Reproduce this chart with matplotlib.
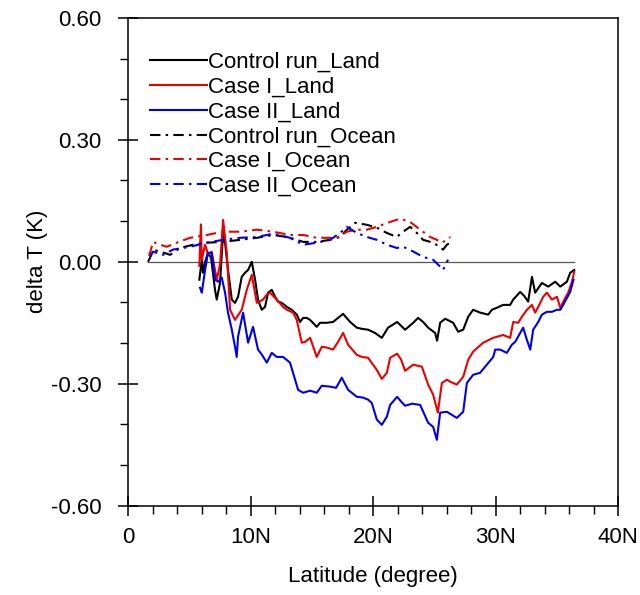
import matplotlib
matplotlib.use('Agg')
import matplotlib.pyplot as plt
from matplotlib.ticker import MultipleLocator, FuncFormatter

plt.rcParams['font.family'] = ['Liberation Sans', 'DejaVu Sans']
plt.rcParams['axes.unicode_minus'] = False

# land series (latitude in degrees N, delta T in K)
ctl_land_lat = [5.82, 6.02, 6.12, 6.29, 6.53, 6.78, 7.10, 7.24, 7.51, 7.76, 7.92, 8.16, 8.47, 8.73,
                8.98, 9.28, 9.55, 9.80, 10.10, 10.37, 10.61, 10.91, 11.18, 11.43, 11.73, 12.0, 12.24,
                12.55, 12.96, 13.36, 13.77, 14.04, 14.29, 14.59, 14.86, 15.40, 15.67, 16.22, 16.73,
                17.14, 17.55, 18.12, 18.67, 19.1, 19.59, 20.16, 20.71, 21.22, 21.96, 22.61, 23.27,
                23.67, 24.08, 24.49, 25.06, 25.22, 25.47, 25.88, 26.53, 26.94, 27.35, 27.76, 28.16,
                28.73, 29.39, 29.69, 30.10, 30.61, 31.18, 31.43, 32.0, 32.33, 32.65, 32.96, 33.22,
                33.77, 34.29, 34.86, 35.27, 35.81, 36.08, 36.41]
ctl_land = [-0.044, 0.005, -0.027, 0.0, 0.022, 0.010, -0.069, -0.093, -0.052, 0.074, 0.047, -0.020,
            -0.093, -0.101, -0.086, -0.037, -0.027, -0.020, 0.0, -0.044, -0.093, -0.118, -0.111,
            -0.076, -0.069, -0.086, -0.098, -0.101, -0.111, -0.118, -0.130, -0.148, -0.138, -0.138,
            -0.143, -0.160, -0.150, -0.150, -0.148, -0.138, -0.128, -0.148, -0.162, -0.165, -0.167,
            -0.175, -0.187, -0.162, -0.148, -0.167, -0.150, -0.138, -0.148, -0.162, -0.175, -0.194,
            -0.150, -0.140, -0.150, -0.172, -0.167, -0.135, -0.118, -0.125, -0.130, -0.118, -0.113,
            -0.106, -0.106, -0.093, -0.074, -0.084, -0.098, -0.037, -0.076, -0.052, -0.061, -0.049,
            -0.061, -0.049, -0.027, -0.020]

case1_land_lat = [5.82, 5.95, 6.02, 6.29, 6.42, 6.53, 6.83, 7.24, 7.51, 7.76, 8.06, 8.33, 8.73, 9.28,
                  9.69, 10.10, 10.51, 11.02, 11.32, 11.59, 12.14, 12.65, 12.96, 13.47, 13.77, 14.18,
                  14.45, 14.86, 15.40, 15.81, 16.24, 16.73, 17.14, 17.55, 17.96, 18.67, 19.1, 19.59,
                  20.30, 20.71, 21.12, 21.39, 21.96, 22.29, 22.61, 23.27, 23.98, 24.49, 24.90, 25.28,
                  25.61, 26.02, 26.29, 26.83, 27.35, 27.76, 28.16, 28.98, 29.80, 30.61, 31.18, 31.43,
                  31.84, 32.14, 32.55, 32.96, 33.22, 33.47, 33.88, 34.18, 34.59, 35.0, 35.27, 35.67,
                  35.92, 36.22, 36.41]
case1_land = [-0.01, 0.092, 0.005, 0.042, 0.030, 0.017, 0.025, -0.044, -0.007, 0.103, 0.022, -0.118,
              -0.143, -0.118, -0.069, -0.032, -0.101, -0.093, -0.081, -0.076, -0.093, -0.111, -0.118,
              -0.125, -0.143, -0.199, -0.197, -0.187, -0.234, -0.209, -0.211, -0.216, -0.197, -0.175,
              -0.204, -0.229, -0.234, -0.236, -0.266, -0.288, -0.273, -0.236, -0.226, -0.241, -0.268,
              -0.253, -0.258, -0.302, -0.327, -0.371, -0.298, -0.290, -0.295, -0.302, -0.283, -0.241,
              -0.221, -0.199, -0.187, -0.180, -0.187, -0.148, -0.150, -0.135, -0.118, -0.106, -0.125,
              -0.111, -0.086, -0.076, -0.093, -0.086, -0.113, -0.089, -0.076, -0.049, -0.025]

case2_land_lat = [5.88, 6.02, 6.29, 6.53, 6.83, 7.10, 7.35, 7.65, 7.92, 8.16, 8.47, 8.73, 8.87, 8.98,
                  9.39, 9.80, 10.20, 10.61, 10.94, 11.32, 11.73, 12.14, 12.65, 13.22, 13.88, 14.29,
                  14.86, 15.40, 15.81, 16.49, 16.98, 17.44, 17.96, 18.67, 19.18, 19.59, 19.89, 20.30,
                  20.71, 21.12, 21.39, 21.96, 22.29, 22.61, 23.18, 23.84, 24.49, 24.90, 25.20, 25.47,
                  26.02, 26.83, 27.10, 27.35, 27.65, 28.16, 28.73, 29.28, 29.80, 29.96, 30.37, 30.91,
                  31.32, 31.59, 32.0, 32.24, 32.55, 32.82, 33.06, 33.47, 33.77, 34.18, 34.59, 35.0,
                  35.27, 35.51, 35.81, 36.08, 36.35]
case2_land = [-0.064, -0.076, -0.020, 0.022, 0.022, -0.044, -0.049, -0.039, -0.076, -0.125, -0.167,
              -0.209, -0.234, -0.184, -0.125, -0.199, -0.160, -0.216, -0.229, -0.248, -0.224, -0.234,
              -0.234, -0.248, -0.315, -0.322, -0.317, -0.322, -0.305, -0.307, -0.310, -0.285, -0.315,
              -0.332, -0.334, -0.339, -0.347, -0.388, -0.401, -0.381, -0.352, -0.332, -0.344, -0.354,
              -0.349, -0.352, -0.396, -0.406, -0.438, -0.371, -0.369, -0.384, -0.376, -0.369, -0.298,
              -0.278, -0.273, -0.253, -0.234, -0.216, -0.216, -0.224, -0.204, -0.197, -0.175, -0.162,
              -0.192, -0.216, -0.167, -0.148, -0.130, -0.123, -0.123, -0.118, -0.118, -0.106, -0.089,
              -0.074, -0.044]

# ocean series
ctl_ocean_lat = [1.63, 1.80, 2.04, 2.61, 3.16, 3.43, 4.24, 5.31, 6.42, 7.76, 9.14, 10.51, 11.84, 12.96,
                 13.77, 14.29, 15.40, 16.49, 17.31, 17.85, 18.53, 19.49, 20.30, 21.12, 21.93, 22.45,
                 23.02, 23.57, 24.08, 24.90, 25.31, 25.71, 26.02, 26.29]
ctl_ocean = [0.0, 0.010, 0.030, 0.025, 0.020, 0.017, 0.034, 0.042, 0.047, 0.049, 0.054, 0.059, 0.066,
             0.061, 0.054, 0.049, 0.049, 0.054, 0.061, 0.079, 0.096, 0.091, 0.084, 0.071, 0.061, 0.074,
             0.086, 0.071, 0.054, 0.047, 0.039, 0.030, 0.042, 0.047]

case1_ocean_lat = [1.70, 1.80, 2.04, 2.61, 3.16, 3.98, 5.06, 6.42, 7.76, 9.14, 10.51, 11.84, 13.22, 14.29,
                   15.40, 16.22, 17.04, 17.85, 18.67, 19.49, 20.30, 21.39, 22.20, 23.02, 23.84, 24.65,
                   25.20, 25.61, 26.02, 26.29]
case1_ocean = [0.015, 0.022, 0.049, 0.042, 0.037, 0.047, 0.059, 0.066, 0.074, 0.074, 0.079, 0.074, 0.066,
               0.066, 0.059, 0.059, 0.059, 0.074, 0.079, 0.079, 0.086, 0.098, 0.106, 0.098, 0.079, 0.061,
               0.054, 0.047, 0.054, 0.061]

case2_ocean_lat = [1.80, 2.04, 2.86, 3.67, 5.06, 6.42, 7.76, 9.14, 10.51, 11.84, 13.22, 14.29, 15.40,
                   16.49, 17.31, 17.85, 18.67, 19.49, 20.30, 21.12, 21.93, 22.45, 23.29, 24.08, 24.90,
                   25.47, 25.71, 26.02, 26.12]
case2_ocean = [0.012, 0.025, 0.017, 0.030, 0.037, 0.047, 0.054, 0.059, 0.061, 0.069, 0.059, 0.042, 0.047,
               0.054, 0.071, 0.086, 0.071, 0.061, 0.054, 0.042, 0.034, 0.037, 0.025, 0.012, 0.005, -0.012,
               -0.020, 0.0, 0.005]

labels = ['Control run_Land', 'Case I_Land', 'Case II_Land',
          'Control run_Ocean', 'Case I_Ocean', 'Case II_Ocean']

fig = plt.figure(figsize=(6.4, 5.95), dpi=100)
ax = fig.add_axes([0.2, 0.15, 0.766, 0.82])

dashdot = (0, (5, 2.5, 1.2, 2.5))
lw = 1.5
ax.plot(ctl_land_lat, ctl_land, color='black', lw=lw, label=labels[0])
ax.plot(case1_land_lat, case1_land, color='#ee0000', lw=lw, label=labels[1])
ax.plot(case2_land_lat, case2_land, color='#0000ee', lw=lw, label=labels[2])
ax.plot(ctl_ocean_lat, ctl_ocean, color='black', lw=lw, ls=dashdot, label=labels[3])
ax.plot(case1_ocean_lat, case1_ocean, color='#ee0000', lw=lw, ls=dashdot, label=labels[4])
ax.plot(case2_ocean_lat, case2_ocean, color='#0000ee', lw=lw, ls=dashdot, label=labels[5])

# zero reference line across the data range
xmin = min(ctl_ocean_lat)
xmax = max(ctl_land_lat)
ax.plot([xmin, xmax], [0, 0], color='#555555', lw=0.9, zorder=1)

ax.set_xlim(0, 40)
ax.set_ylim(-0.6, 0.6)
ax.xaxis.set_major_locator(MultipleLocator(10))
ax.xaxis.set_minor_locator(MultipleLocator(2))
ax.yaxis.set_major_locator(MultipleLocator(0.3))
ax.yaxis.set_minor_locator(MultipleLocator(0.1))
ax.xaxis.set_major_formatter(FuncFormatter(lambda v, p: '0' if v == 0 else '%dN' % v))
ax.yaxis.set_major_formatter(FuncFormatter(lambda v, p: '%.2f' % v))

ax.tick_params(which='major', direction='inout', length=14, width=1.1, labelsize=16)
ax.tick_params(which='minor', direction='out', length=6, width=1.0)
ax.tick_params(axis='x', which='major', pad=8)
ax.tick_params(axis='y', which='major', pad=12)
for s in ax.spines.values():
    s.set_linewidth(1.1)

ax.set_xlabel('Latitude (degree)', fontsize=16, labelpad=13)
ax.set_ylabel('delta T (K)', fontsize=16, labelpad=2)

ax.legend(loc='upper left', bbox_to_anchor=(0.045, 0.93), frameon=False, fontsize=16,
          handlelength=2.55, handletextpad=0.05, labelspacing=0.17, borderpad=0, borderaxespad=0)

plt.savefig('out.png', dpi=100)
